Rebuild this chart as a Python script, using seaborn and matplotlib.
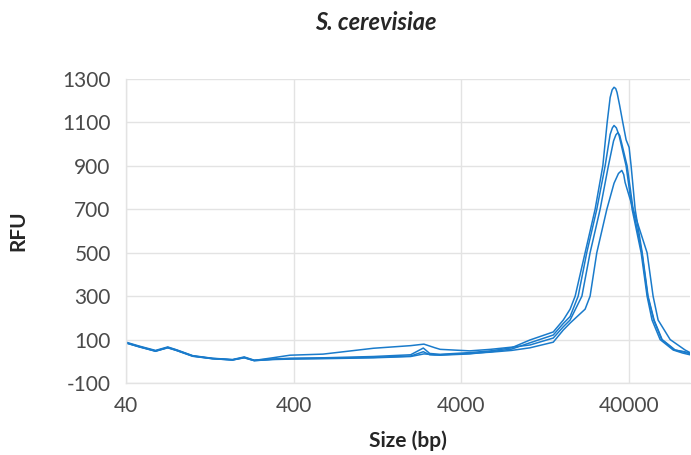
import matplotlib
matplotlib.use("Agg")
import pandas as pd
import matplotlib.pyplot as plt
import seaborn as sns
from matplotlib.ticker import FixedLocator, FixedFormatter

# Electropherogram traces (size in bp, RFU)
size_a = [40, 48, 60, 71, 80, 100, 131, 173, 203, 233, 300, 381, 600, 1200, 2000, 2380, 2600,
          3000, 4500, 6000, 8000, 10300, 14200, 16300, 17900, 19190, 22000, 25240, 28060, 29790,
          31040, 31900, 32740, 33500, 34120, 35330, 36920, 38640, 40280, 41400, 43760, 48200,
          52240, 56760, 63400, 75880, 86000, 93000]
rfu_a = [88, 70, 50, 66, 53, 26, 14, 8, 20, 5, 10, 14, 16, 22, 30, 61, 36,
         32, 40, 48, 62, 98, 135, 190, 240, 300, 500, 700, 900, 1100,
         1215, 1250, 1262, 1256, 1238, 1180, 1100, 1020, 985, 900, 700, 500,
         300, 190, 100, 52, 42, 35]

size_b = [40, 48, 60, 71, 80, 100, 131, 173, 203, 233, 300, 381, 600, 1200, 2000, 2380, 2600,
          3000, 4500, 6000, 8000, 10300, 14200, 16300, 17900, 20000, 22500, 25830, 28970, 31040,
          32000, 32740, 33800, 35090, 38640, 41980, 47520, 51560, 55200, 61680, 73800, 84000, 93000]
rfu_b = [84, 67, 46, 63, 50, 24, 12, 6, 16, 3, 9, 12, 14, 18, 24, 44, 30,
         28, 34, 44, 56, 85, 121, 174, 206, 300, 500, 700, 900, 1045,
         1075, 1086, 1075, 1040, 900, 700, 500, 300, 190, 100, 52, 38, 30]

size_c = [40, 48, 60, 71, 80, 100, 131, 173, 203, 233, 300, 381, 600, 1200, 2000, 2400, 2800,
          3000, 4500, 6000, 8000, 10300, 14200, 16300, 17900, 21050, 23560, 27040, 30290, 32530,
          33600, 34500, 35400, 36330, 39180, 42560, 48000, 52000, 56500, 63000, 75000, 85000, 93000]
rfu_c = [86, 68, 48, 64, 52, 25, 13, 7, 18, 4, 16, 28, 33, 60, 72, 79, 62,
         55, 48, 55, 65, 75, 107, 159, 190, 300, 500, 700, 900, 1015,
         1043, 1053, 1040, 1005, 900, 700, 500, 300, 190, 100, 52, 45, 38]

size_d = [40, 48, 60, 71, 80, 100, 131, 173, 203, 233, 300, 381, 600, 1200, 2000, 2400, 2800,
          3000, 4500, 6000, 8000, 10300, 14200, 16300, 17900, 22000, 23560, 25830, 29650, 32740,
          34800, 36420, 37400, 38110, 42560, 51560, 56000, 60000, 70800, 86920, 93000]
rfu_d = [85, 66, 47, 62, 50, 23, 12, 6, 17, 3, 8, 10, 12, 16, 22, 34, 30,
         30, 36, 42, 50, 62, 88, 144, 176, 240, 300, 500, 700, 820,
         865, 879, 860, 824, 700, 500, 300, 190, 100, 52, 40]

x_ticks = [40, 400, 4000, 40000]
x_tick_labels = ["40", "400", "4000", "40000"]
y_ticks = [-100, 100, 300, 500, 700, 900, 1100, 1300]

traces = pd.concat([
    pd.DataFrame({"Size": size_a, "RFU": rfu_a, "Run": "A"}),
    pd.DataFrame({"Size": size_b, "RFU": rfu_b, "Run": "B"}),
    pd.DataFrame({"Size": size_c, "RFU": rfu_c, "Run": "C"}),
    pd.DataFrame({"Size": size_d, "RFU": rfu_d, "Run": "D"}),
], ignore_index=True)

sns.set_style("whitegrid")
plt.rcParams["font.family"] = ["Lato", "DejaVu Sans"]
plt.rcParams["axes.unicode_minus"] = False

fig = plt.figure(figsize=(6.91, 4.55), dpi=100)
ax = fig.add_axes([126 / 691, 1 - 383 / 455, 564 / 691, 304 / 455])

sns.lineplot(data=traces, x="Size", y="RFU", units="Run", estimator=None,
             color="#1a7bcb", linewidth=1.1, ax=ax)

ax.set_xscale("log")
ax.set_xlim(40, 93000)
ax.set_ylim(-100, 1300)
ax.xaxis.set_major_locator(FixedLocator(x_ticks))
ax.xaxis.set_major_formatter(FixedFormatter(x_tick_labels))
ax.xaxis.set_minor_locator(FixedLocator([]))
ax.set_yticks(y_ticks)

ax.grid(True, color="#e3e3e3", linewidth=1)
for side in ["top", "right"]:
    ax.spines[side].set_visible(False)
for side in ["left", "bottom"]:
    ax.spines[side].set_color("#e3e3e3")
    ax.spines[side].set_linewidth(1)

ax.tick_params(axis="both", length=0, labelsize=15, labelcolor="#4a4a4a")
ax.tick_params(axis="y", pad=11)
ax.tick_params(axis="x", pad=9)

ax.set_xlabel("Size (bp)", fontsize=15, fontweight="bold", labelpad=11)
ax.set_ylabel("RFU", fontsize=15, fontweight="bold")
ax.yaxis.set_label_coords(-98 / 564, 0.5)

fig.text(376 / 691, 1 - 22 / 455, "S. cerevisiae", ha="center", va="center",
         fontsize=17, fontweight="bold", fontstyle="italic")

fig.savefig("out.png", dpi=100)
plt.close(fig)
